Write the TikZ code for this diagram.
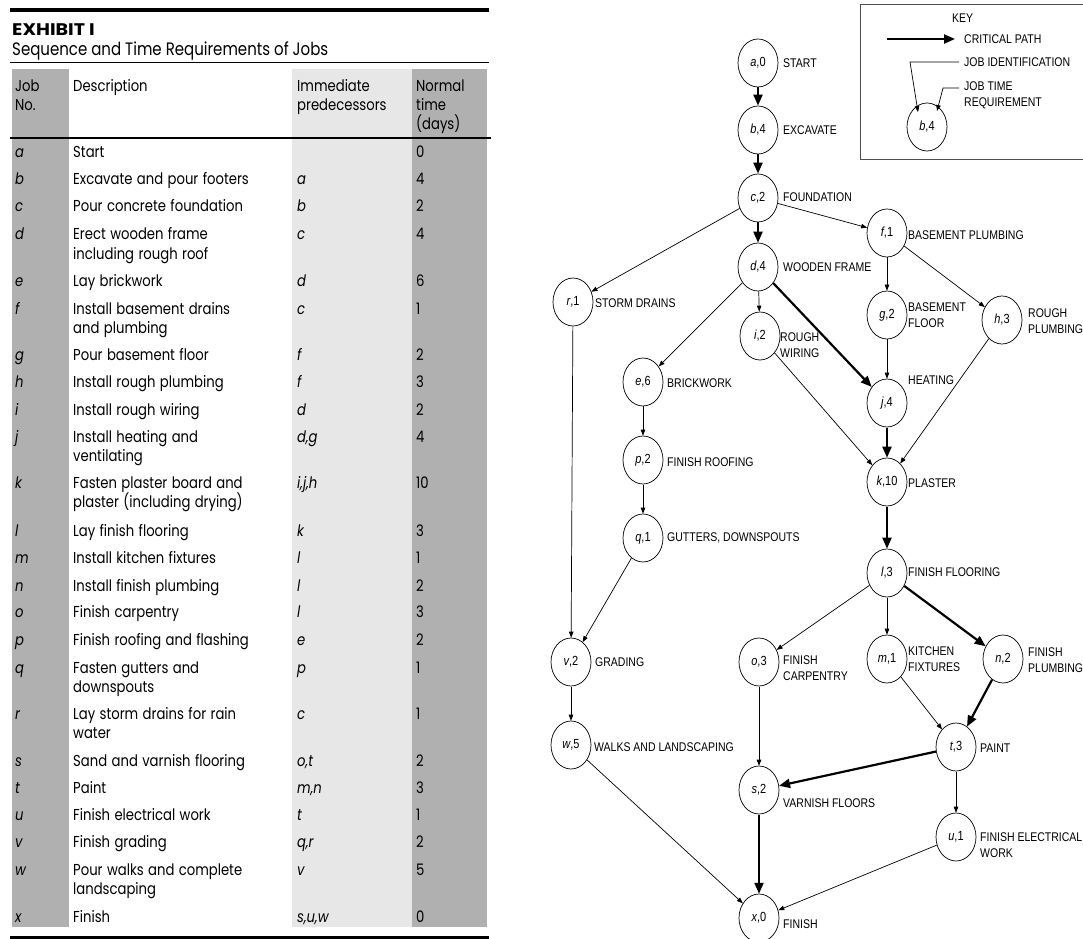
\documentclass[tikz,border=0pt]{standalone}
\usepackage{fontspec}
\setmainfont{Poppins}
\setsansfont{Liberation Sans}
\usetikzlibrary{arrows.meta}

\definecolor{banddark}{RGB}{176,176,176}
\definecolor{bandlight}{RGB}{231,231,231}
\definecolor{keyline}{RGB}{80,80,80}

\tikzset{
  job/.style={draw, circle, minimum size=40pt, inner sep=0pt, line width=0.7pt,
    font=\sffamily\fontsize{11}{12}\selectfont},
  lbl/.style={anchor=west, inner sep=0pt, align=left,
    font=\sffamily\fontsize{10.5}{13}\selectfont},
  flow/.style={line width=0.7pt, -{Triangle[length=6pt,width=4.5pt]}},
  crit/.style={line width=2.2pt, -{Triangle[length=11pt,width=9pt]}},
  cell/.style={anchor=base west, inner sep=0pt, font=\fontsize{13.2}{16}\selectfont},
  desc/.style={cell, text width=210pt, align=left},
  head/.style={cell, text width=110pt, align=left},
}

\begin{document}
\begin{tikzpicture}[x=1pt, y=-0.83333pt, yscale=1.2,
  every node/.append style={transform shape}]
\useasboundingbox (0,0) rectangle (1083,939);

% Exhibit title
\draw[line width=4pt] (10,10) -- (489,10);
\node[cell, font=\bfseries\fontsize{14}{16}\selectfont\addfontfeature{FakeStretch=1.36}] (title) at (12,35.5) {EXHIBIT I};
\node[cell, font=\fontsize{15}{17}\selectfont] (subtitle) at (12,56) {Sequence and Time Requirements of Jobs};
\draw[line width=1pt] (10,63) -- (489,63);

% Column bands and rules
\fill[banddark] (12,69) rectangle (69,927);
\fill[bandlight] (292,69) rectangle (412,927);
\fill[banddark] (412,69) rectangle (487,927);
\draw[line width=1.3pt] (10,138) -- (491,138);
\draw[line width=3pt] (10,937.5) -- (489,937.5);

% Header
\node[head] (hjob) at (15,91.5) {Job\\No.};
\node[head] (hdesc) at (73,91.5) {Description};
\node[head] (hpred) at (297,91.5) {Immediate\\predecessors};
\node[head] (htime) at (416,91.5) {Normal\\time\\(days)};

% Rows
\node[cell] (noA) at (15,157.5) {\itshape a};
\node[desc] (descA) at (73,157.5) {Start};
\node[cell] (timeA) at (416,157.5) {0};
\node[cell] (noB) at (15,184.5) {\itshape b};
\node[desc] (descB) at (73,184.5) {Excavate and pour footers};
\node[cell] (predB) at (297,184.5) {\itshape a};
\node[cell] (timeB) at (416,184.5) {4};
\node[cell] (noC) at (15,212) {\itshape c};
\node[desc] (descC) at (73,212) {Pour concrete foundation};
\node[cell] (predC) at (297,212) {\itshape b};
\node[cell] (timeC) at (416,212) {2};
\node[cell] (noD) at (15,240) {\itshape d};
\node[desc] (descD) at (73,240) {Erect wooden frame\\including rough roof};
\node[cell] (predD) at (297,240) {\itshape c};
\node[cell] (timeD) at (416,240) {4};
\node[cell] (noE) at (15,287) {\itshape e};
\node[desc] (descE) at (73,287) {Lay brickwork};
\node[cell] (predE) at (297,287) {\itshape d};
\node[cell] (timeE) at (416,287) {6};
\node[cell] (noF) at (15,314.5) {\itshape f};
\node[desc] (descF) at (73,314.5) {Install basement drains\\and plumbing};
\node[cell] (predF) at (297,314.5) {\itshape c};
\node[cell] (timeF) at (416,314.5) {1};
\node[cell] (noG) at (15,360.5) {\itshape g};
\node[desc] (descG) at (73,360.5) {Pour basement floor};
\node[cell] (predG) at (297,360.5) {\itshape f};
\node[cell] (timeG) at (416,360.5) {2};
\node[cell] (noH) at (15,387.5) {\itshape h};
\node[desc] (descH) at (73,387.5) {Install rough plumbing};
\node[cell] (predH) at (297,387.5) {\itshape f};
\node[cell] (timeH) at (416,387.5) {3};
\node[cell] (noI) at (15,415.5) {\itshape i};
\node[desc] (descI) at (73,415.5) {Install rough wiring};
\node[cell] (predI) at (297,415.5) {\itshape d};
\node[cell] (timeI) at (416,415.5) {2};
\node[cell] (noJ) at (15,442.5) {\itshape j};
\node[desc] (descJ) at (73,442.5) {Install heating and\\ventilating};
\node[cell] (predJ) at (297,442.5) {\itshape d,g};
\node[cell] (timeJ) at (416,442.5) {4};
\node[cell] (noK) at (15,488.5) {\itshape k};
\node[desc] (descK) at (73,488.5) {Fasten plaster board and\\plaster (including drying)};
\node[cell] (predK) at (297,488.5) {\itshape i,j,h};
\node[cell] (timeK) at (416,488.5) {10};
\node[cell] (noL) at (15,536) {\itshape l};
\node[desc] (descL) at (73,536) {Lay finish flooring};
\node[cell] (predL) at (297,536) {\itshape k};
\node[cell] (timeL) at (416,536) {3};
\node[cell] (noM) at (15,563.5) {\itshape m};
\node[desc] (descM) at (73,563.5) {Install kitchen fixtures};
\node[cell] (predM) at (297,563.5) {\itshape l};
\node[cell] (timeM) at (416,563.5) {1};
\node[cell] (noN) at (15,591) {\itshape n};
\node[desc] (descN) at (73,591) {Install finish plumbing};
\node[cell] (predN) at (297,591) {\itshape l};
\node[cell] (timeN) at (416,591) {2};
\node[cell] (noO) at (15,617.5) {\itshape o};
\node[desc] (descO) at (73,617.5) {Finish carpentry};
\node[cell] (predO) at (297,617.5) {\itshape l};
\node[cell] (timeO) at (416,617.5) {3};
\node[cell] (noP) at (15,645) {\itshape p};
\node[desc] (descP) at (73,645) {Finish roofing and flashing};
\node[cell] (predP) at (297,645) {\itshape e};
\node[cell] (timeP) at (416,645) {2};
\node[cell] (noQ) at (15,673) {\itshape q};
\node[desc] (descQ) at (73,673) {Fasten gutters and\\downspouts};
\node[cell] (predQ) at (297,673) {\itshape p};
\node[cell] (timeQ) at (416,673) {1};
\node[cell] (noR) at (15,719.5) {\itshape r};
\node[desc] (descR) at (73,719.5) {Lay storm drains for rain\\water};
\node[cell] (predR) at (297,719.5) {\itshape c};
\node[cell] (timeR) at (416,719.5) {1};
\node[cell] (noS) at (15,766) {\itshape s};
\node[desc] (descS) at (73,766) {Sand and varnish flooring};
\node[cell] (predS) at (297,766) {\itshape o,t};
\node[cell] (timeS) at (416,766) {2};
\node[cell] (noT) at (15,793.5) {\itshape t};
\node[desc] (descT) at (73,793.5) {Paint};
\node[cell] (predT) at (297,793.5) {\itshape m,n};
\node[cell] (timeT) at (416,793.5) {3};
\node[cell] (noU) at (15,820.5) {\itshape u};
\node[desc] (descU) at (73,820.5) {Finish electrical work};
\node[cell] (predU) at (297,820.5) {\itshape t};
\node[cell] (timeU) at (416,820.5) {1};
\node[cell] (noV) at (15,847.5) {\itshape v};
\node[desc] (descV) at (73,847.5) {Finish grading};
\node[cell] (predV) at (297,847.5) {\itshape q,r};
\node[cell] (timeV) at (416,847.5) {2};
\node[cell] (noW) at (15,875.5) {\itshape w};
\node[desc] (descW) at (73,875.5) {Pour walks and complete\\landscaping};
\node[cell] (predW) at (297,875.5) {\itshape v};
\node[cell] (timeW) at (416,875.5) {5};
\node[cell] (noX) at (15,922) {\itshape x};
\node[desc] (descX) at (73,922) {Finish};
\node[cell] (predX) at (297,922) {\itshape s,u,w};
\node[cell] (timeX) at (416,922) {0};

% Key
\draw[line width=1pt, keyline] (860,5) rectangle (1095,160);
\node[lbl] (keyhd) at (952,18) {KEY};
\coordinate (critL) at (887,39);
\coordinate (critR) at (955,39);
\draw[crit] (critL) -- (critR);
\node[lbl] (keycp) at (964,39) {CRITICAL PATH};
\node[lbl] (keyid) at (964,62) {JOB IDENTIFICATION};
\node[lbl] (keytm) at (964,95.5) {JOB TIME\\REQUIREMENT};
\node[job] (keyjob) at (927,127) {\textit{b},4};
\coordinate (idbend) at (910,62);
\coordinate (idtip) at (918,112);
\coordinate (tmbend) at (943,88);
\coordinate (tmtip) at (937,111);
\draw[flow] ([xshift=-5pt]keyid.west) -- (idbend) -- (idtip);
\draw[flow] ([xshift=-5pt]keytm.west |- tmbend) -- (tmbend) -- (tmtip);

% Jobs
\node[job] (start) at (758,63) {\textit{a},0};
\node[job] (excav) at (758,130) {\textit{b},4};
\node[job] (found) at (758,198) {\textit{c},2};
\node[job] (frame) at (758,267) {\textit{d},4};
\node[job] (drains) at (573,302) {\textit{r},1};
\node[job] (bplumb) at (887,233) {\textit{f},1};
\node[job] (bfloor) at (887,315) {\textit{g},2};
\node[job] (rplumb) at (1002,320) {\textit{h},3};
\node[job] (wiring) at (760,336) {\textit{i},2};
\node[job] (heat) at (887,403) {\textit{j},4};
\node[job] (brick) at (643,382) {\textit{e},6};
\node[job] (roofing) at (643,460) {\textit{p},2};
\node[job] (gutters) at (643,538) {\textit{q},1};
\node[job] (plaster) at (887,482) {\textit{k},10};
\node[job] (floor) at (887,573) {\textit{l},3};
\node[job] (grading) at (571,662) {\textit{v},2};
\node[job] (carp) at (759,662) {\textit{o},3};
\node[job] (kitchen) at (887,659) {\textit{m},1};
\node[job] (fplumb) at (1003,659) {\textit{n},2};
\node[job] (walks) at (571,745) {\textit{w},5};
\node[job] (paint) at (956,747) {\textit{t},3};
\node[job] (varnish) at (759,790) {\textit{s},2};
\node[job] (elec) at (956,837) {\textit{u},1};
\node[job] (finish) at (759,918) {\textit{x},0};

% Job names
\node[lbl] (lstart) at (783,63) {START};
\node[lbl] (lexcav) at (783,130) {EXCAVATE};
\node[lbl] (lfound) at (783,197) {FOUNDATION};
\node[lbl] (lframe) at (783,267) {WOODEN FRAME};
\node[lbl] (ldrains) at (595,303) {STORM DRAINS};
\node[lbl] (lbplumb) at (908,235) {BASEMENT PLUMBING};
\node[lbl] (lbfloor) at (908,315) {BASEMENT\\FLOOR};
\node[lbl] (lrplumb) at (1028,321) {ROUGH\\PLUMBING};
\node[lbl] (lwiring) at (780,345) {ROUGH\\WIRING};
\node[lbl] (lheat) at (908,380) {HEATING};
\node[lbl] (lbrick) at (667,383) {BRICKWORK};
\node[lbl] (lroofing) at (667,462) {FINISH ROOFING};
\node[lbl] (lgutters) at (667,538) {GUTTERS, DOWNSPOUTS};
\node[lbl] (lplaster) at (908,483) {PLASTER};
\node[lbl] (lfloor) at (908,572) {FINISH FLOORING};
\node[lbl] (lgrading) at (595,662) {GRADING};
\node[lbl] (lcarp) at (783,668) {FINISH\\CARPENTRY};
\node[lbl] (lkitchen) at (908,659) {KITCHEN\\FIXTURES};
\node[lbl] (lfplumb) at (1028,660) {FINISH\\PLUMBING};
\node[lbl] (lwalks) at (594,747) {WALKS AND LANDSCAPING};
\node[lbl] (lpaint) at (980,748) {PAINT};
\node[lbl] (lvarnish) at (783,803) {VARNISH FLOORS};
\node[lbl] (lelec) at (980,845) {FINISH ELECTRICAL\\WORK};
\node[lbl] (lfinish) at (783,924) {FINISH};

% Critical path
\draw[crit] (start) -- (excav);
\draw[crit] (excav) -- (found);
\draw[crit] (found) -- (frame);
\draw[crit] (frame) -- (heat);
\draw[crit] (heat) -- (plaster);
\draw[crit] (plaster) -- (floor);
\draw[crit] (floor) -- (fplumb);
\draw[crit] (fplumb) -- (paint);
\draw[crit] (paint) -- (varnish);
\draw[crit] (varnish) -- (finish);

% Other precedences
\draw[flow] (found) -- (drains);
\draw[flow] (found) -- (bplumb);
\draw[flow] (frame) -- (brick);
\draw[flow] (frame) -- (wiring);
\draw[flow] (bplumb) -- (bfloor);
\draw[flow] (bplumb) -- (rplumb);
\draw[flow] (bfloor) -- (heat);
\draw[flow] (wiring) -- (plaster);
\draw[flow] (rplumb) -- (plaster);
\draw[flow] (brick) -- (roofing);
\draw[flow] (roofing) -- (gutters);
\draw[flow] (drains) -- (grading);
\draw[flow] (gutters) -- (grading);
\draw[flow] (grading) -- (walks);
\draw[flow] (walks) -- (finish);
\draw[flow] (floor) -- (carp);
\draw[flow] (floor) -- (kitchen);
\draw[flow] (kitchen) -- (paint);
\draw[flow] (carp) -- (varnish);
\draw[flow] (paint) -- (elec);
\draw[flow] (elec) -- (finish);
\end{tikzpicture}
\end{document}
